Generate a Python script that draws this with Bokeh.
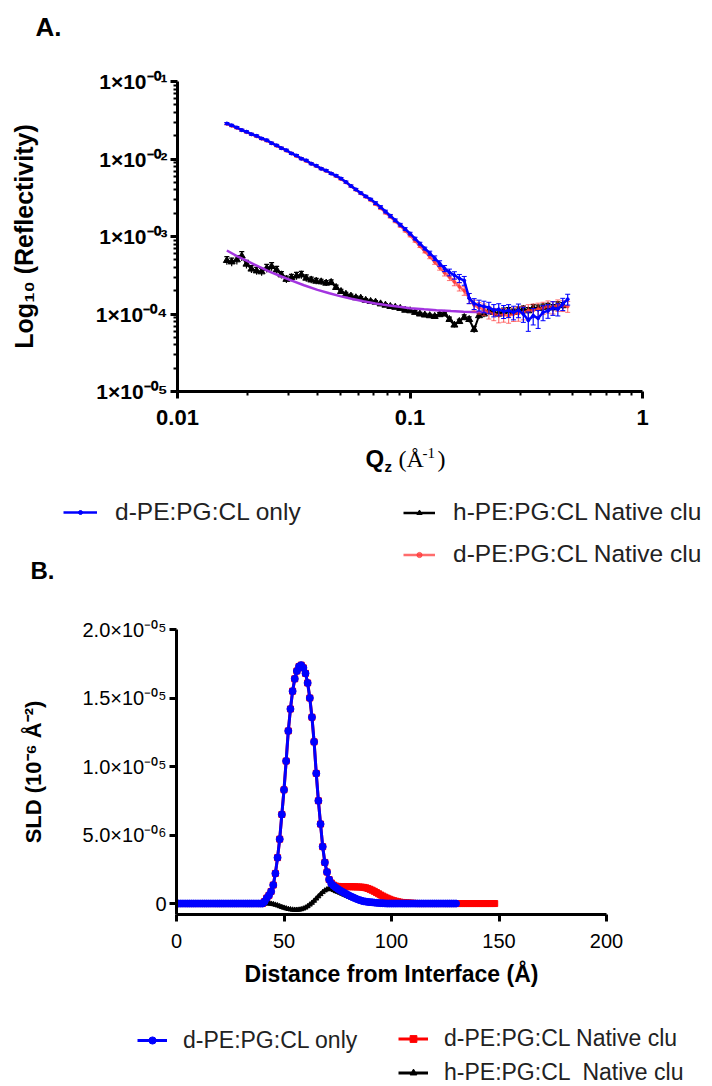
from bokeh.plotting import figure
from bokeh.models import (FixedTicker, CustomJSTickFormatter, Label, Legend,
                          LegendItem, Range1d, ColumnDataSource)
from bokeh.layouts import column
from bokeh.embed import file_html
from bokeh.resources import INLINE

FONT = "Liberation Sans"
SERIF = "Liberation Serif"

# ---------------- Panel A data (reflectivity) ----------------
q = [0.0163, 0.0171, 0.0180, 0.0189, 0.0198, 0.0208, 0.0219, 0.0230, 0.0242, 0.0254,
     0.0267, 0.0280, 0.0294, 0.0309, 0.0325, 0.0341, 0.0358, 0.0376, 0.0395, 0.0415,
     0.0436, 0.0458, 0.0481, 0.0505, 0.0530, 0.0557, 0.0585, 0.0614, 0.0645, 0.0677,
     0.0711, 0.0747, 0.0784, 0.0823, 0.0864, 0.0908, 0.0953, 0.1001, 0.1051, 0.1103,
     0.1158, 0.1216, 0.1277, 0.1341, 0.1408, 0.1478, 0.1552, 0.1630, 0.1711, 0.1797,
     0.1887, 0.1981, 0.2080, 0.2184, 0.2293, 0.2408, 0.2528, 0.2655, 0.2787, 0.2927,
     0.3073, 0.3227, 0.3388, 0.3557, 0.3735, 0.3922, 0.4118, 0.4324, 0.4540, 0.4767]

r_only = [2.87e-2, 2.72e-2, 2.55e-2, 2.36e-2, 2.25e-2, 2.09e-2, 1.99e-2, 1.84e-2, 1.75e-2, 1.60e-2,
          1.50e-2, 1.38e-2, 1.30e-2, 1.18e-2, 1.11e-2, 1.01e-2, 9.6e-3, 8.7e-3, 8.2e-3, 7.5e-3,
          7.1e-3, 6.5e-3, 6.1e-3, 5.6e-3, 5.05e-3, 4.5e-3, 4.05e-3, 3.65e-3, 3.3e-3, 3.02e-3,
          2.7e-3, 2.4e-3, 2.1e-3, 1.85e-3, 1.62e-3, 1.42e-3, 1.25e-3, 1.09e-3, 9.4e-4, 8.1e-4,
          7.0e-4, 6.1e-4, 5.25e-4, 4.5e-4, 3.87e-4, 3.45e-4, 3.16e-4, 2.89e-4, 2.7e-4, 1.6e-4,
          1.36e-4, 1.3e-4, 1.25e-4, 1.21e-4, 1.12e-4, 1.15e-4, 1.08e-4, 1.11e-4, 1.05e-4, 1.12e-4,
          1.0e-4, 8.3e-5, 9.5e-5, 8.8e-5, 1.05e-4, 1.1e-4, 1.2e-4, 1.15e-4, 1.35e-4, 1.55e-4]
err_only = ([0.03] * 30 + [0.04] * 11 + [0.06, 0.07, 0.08, 0.09, 0.10, 0.11, 0.12, 0.13] +
            [0.15, 0.16, 0.16, 0.17, 0.17, 0.18, 0.18, 0.19, 0.19, 0.20, 0.20, 0.22, 0.28,
             0.24, 0.26, 0.22, 0.20, 0.20, 0.18, 0.18, 0.16])

r_dnat = [2.84e-2, 2.68e-2, 2.52e-2, 2.35e-2, 2.22e-2, 2.08e-2, 1.96e-2, 1.83e-2, 1.72e-2, 1.60e-2,
          1.48e-2, 1.38e-2, 1.28e-2, 1.18e-2, 1.09e-2, 1.01e-2, 9.4e-3, 8.7e-3, 8.1e-3, 7.5e-3,
          7.0e-3, 6.5e-3, 6.0e-3, 5.5e-3, 5.0e-3, 4.45e-3, 4.0e-3, 3.6e-3, 3.25e-3, 2.95e-3,
          2.62e-3, 2.32e-3, 2.03e-3, 1.80e-3, 1.57e-3, 1.37e-3, 1.19e-3, 1.03e-3, 8.8e-4, 7.5e-4,
          6.4e-4, 5.5e-4, 4.7e-4, 4.0e-4, 3.4e-4, 3.0e-4, 2.6e-4, 2.25e-4, 2.0e-4, 1.6e-4,
          1.3e-4, 1.2e-4, 1.15e-4, 1.05e-4, 1.0e-4, 9.6e-5, 9.8e-5, 9.5e-5, 1.0e-4, 1.02e-4,
          1.05e-4, 1.1e-4, 1.12e-4, 1.15e-4, 1.2e-4, 1.25e-4, 1.22e-4, 1.3e-4, 1.28e-4, 1.25e-4]
err_dnat = ([0.03] * 30 + [0.04] * 11 + [0.06, 0.07, 0.08, 0.09, 0.10, 0.11, 0.12, 0.13] +
            [0.15, 0.16, 0.17, 0.17, 0.18, 0.18, 0.20, 0.20, 0.20, 0.20, 0.21, 0.20, 0.20,
             0.20, 0.20, 0.18, 0.18, 0.18, 0.17, 0.16, 0.16])

q_hnat = q[:69]
r_hnat = [4.9e-4, 4.7e-4, 5.0e-4, 5.6e-4, 4.4e-4, 3.8e-4, 3.6e-4, 3.5e-4, 3.9e-4, 4.1e-4,
          3.7e-4, 3.2e-4, 2.8e-4, 2.95e-4, 3.1e-4, 3.2e-4, 2.9e-4, 2.75e-4, 2.65e-4, 2.6e-4,
          2.5e-4, 2.55e-4, 2.2e-4, 1.95e-4, 1.8e-4, 1.7e-4, 1.62e-4, 1.6e-4, 1.5e-4, 1.45e-4,
          1.42e-4, 1.35e-4, 1.3e-4, 1.25e-4, 1.22e-4, 1.18e-4, 1.12e-4, 1.1e-4, 1.05e-4, 1.0e-4,
          9.7e-5, 9.5e-5, 9.3e-5, 9.8e-5, 1.0e-4, 8.5e-5, 7.2e-5, 8.0e-5, 9.0e-5, 8.5e-5,
          6.3e-5, 9.5e-5, 1.0e-4, 1.1e-4, 1.05e-4, 1.0e-4, 1.08e-4, 1.1e-4, 1.05e-4, 1.12e-4,
          1.15e-4, 1.1e-4, 1.2e-4, 1.18e-4, 1.22e-4, 1.25e-4, 1.2e-4, 1.3e-4, 1.28e-4]
err_hnat = ([0.12, 0.12, 0.13, 0.14, 0.12, 0.11, 0.11, 0.11, 0.12, 0.12,
             0.11, 0.10, 0.10, 0.10, 0.11, 0.11, 0.10, 0.09, 0.09, 0.08, 0.08, 0.08] +
            [0.07, 0.07, 0.06, 0.06, 0.06] + [0.05] * 15 +
            [0.06, 0.06, 0.06, 0.07, 0.07, 0.07, 0.08, 0.08, 0.09, 0.09, 0.09] + [0.10] * 16)

fit_q = [0.0163, 0.018, 0.020, 0.0225, 0.025, 0.028, 0.031, 0.035, 0.04, 0.045, 0.05, 0.056,
         0.063, 0.071, 0.08, 0.09, 0.10, 0.115, 0.13, 0.15, 0.17, 0.19, 0.215]
fit_r = [6.6e-4, 5.6e-4, 4.8e-4, 4.05e-4, 3.5e-4, 3.05e-4, 2.7e-4, 2.35e-4, 2.05e-4, 1.85e-4,
         1.7e-4, 1.57e-4, 1.46e-4, 1.37e-4, 1.3e-4, 1.24e-4, 1.19e-4, 1.15e-4, 1.12e-4, 1.09e-4,
         1.07e-4, 1.06e-4, 1.06e-4]

xA_ticks = [0.01, 0.1, 1.0]
xA_labels = ["0.01", "0.1", "1"]
xA_minor = [0.02, 0.03, 0.04, 0.05, 0.06, 0.07, 0.08, 0.09, 0.2, 0.3, 0.4, 0.5, 0.6, 0.7, 0.8, 0.9]
yA_ticks = [1e-5, 1e-4, 1e-3, 1e-2, 1e-1]
yA_labels = ["1×10⁻⁰⁵", "1×10⁻⁰⁴", "1×10⁻⁰³", "1×10⁻⁰²", "1×10⁻⁰¹"]
yA_minor = [m * d for d in [1e-5, 1e-4, 1e-3, 1e-2] for m in [2, 3, 4, 5, 6, 7, 8, 9]]

# ---------------- Panel B data (SLD profiles, units of 1e-6 A^-2) ----------------
z_only = list(range(131))
sld_only = ([0.0] * 41 +
            [0.15, 0.4, 0.6, 0.88, 1.35, 2.2, 3.35, 4.7, 6.5, 8.3, 10.4, 12.6, 14.2, 15.5, 16.4,
             16.97, 17.3, 17.4, 17.2, 16.8, 16.1, 15.0, 13.6, 11.8, 9.5, 7.5, 5.8, 4.15, 3.0, 2.3,
             1.75, 1.45, 1.3, 1.18, 1.07, 0.97, 0.87, 0.78, 0.70, 0.61, 0.53, 0.46, 0.39, 0.32,
             0.26, 0.21, 0.17, 0.14, 0.12, 0.10, 0.09, 0.07, 0.05, 0.04, 0.03, 0.02, 0.01] +
            [0.0] * 33)
z_dnat = list(range(149))
sld_dnat = ([0.0] * 41 +
            [0.15, 0.4, 0.6, 0.88, 1.35, 2.2, 3.35, 4.7, 6.5, 8.3, 10.4, 12.6, 14.2, 15.5, 16.4,
             16.97, 17.3, 17.4, 17.2, 16.8, 16.1, 15.0, 13.6, 11.8, 9.5, 7.5, 5.8, 4.15, 3.0, 2.3,
             1.75] +
            [1.5, 1.35, 1.28, 1.25, 1.24, 1.24, 1.24, 1.24, 1.23, 1.23, 1.22, 1.22, 1.21, 1.21] +
            [1.2, 1.18, 1.15, 1.1, 1.04, 0.97, 0.89, 0.8, 0.71, 0.62, 0.54, 0.46, 0.39, 0.32,
             0.26, 0.21, 0.17, 0.13, 0.1, 0.08, 0.06, 0.05, 0.04, 0.03, 0.02, 0.01] +
            [0.0] * 37)
z_hnat = list(range(131))
sld_hnat = ([0.0] * 44 +
            [-0.02, -0.05, -0.09, -0.14, -0.2, -0.26, -0.31, -0.36, -0.4, -0.43, -0.45, -0.46,
             -0.46, -0.45, -0.42, -0.37, -0.3, -0.2, -0.08, 0.05, 0.2, 0.36, 0.52, 0.68, 0.83,
             0.95, 1.03, 1.07, 1.05, 0.98, 0.9, 0.85, 0.78, 0.71, 0.64, 0.57, 0.5, 0.44, 0.38,
             0.32, 0.27, 0.22, 0.18, 0.14, 0.11, 0.09, 0.07, 0.05, 0.04, 0.03, 0.02, 0.01] +
            [0.0] * 35)
SLD_UNIT = 1e-6

xB_ticks = [0, 50, 100, 150, 200]
yB_ticks = [0, 5e-6, 1e-5, 1.5e-5, 2e-5]
yB_labels = ["0", "5.0×10⁻⁰⁶", "1.0×10⁻⁰⁵", "1.5×10⁻⁰⁵", "2.0×10⁻⁰⁵"]

assert len(r_only) == len(q) == len(err_only) == len(r_dnat) == len(err_dnat)
assert len(r_hnat) == len(q_hnat) == len(err_hnat)
assert len(sld_only) == len(z_only) and len(sld_dnat) == len(z_dnat) and len(sld_hnat) == len(z_hnat)

LOG_CODE = """
let best = 0, bd = Infinity;
for (let i = 0; i < tvals.length; i++) {
  const d = Math.abs(Math.log10(tick) - Math.log10(tvals[i]));
  if (d < bd) { bd = d; best = i; }
}
return tlabels[best];
"""
LIN_CODE = """
let best = 0, bd = Infinity;
for (let i = 0; i < tvals.length; i++) {
  const d = Math.abs(tick - tvals[i]);
  if (d < bd) { bd = d; best = i; }
}
return tlabels[best];
"""

BLUE = "#0000ff"
REDA = "#ff3b3b"
PURPLE = "#a334e0"
REDB = "#ff0000"


def style_axis(ax, size, bold):
    ax.axis_line_width = 3
    ax.axis_line_color = "black"
    ax.major_tick_line_width = 3
    ax.major_tick_line_color = "black"
    ax.major_tick_in = 0
    ax.major_tick_out = 7
    ax.minor_tick_line_width = 2
    ax.minor_tick_line_color = "black"
    ax.minor_tick_in = 0
    ax.minor_tick_out = 4
    ax.major_label_text_font = FONT
    ax.major_label_text_font_size = size
    ax.major_label_text_font_style = "bold" if bold else "normal"
    ax.major_label_text_color = "black"
    ax.axis_label_text_font = FONT
    ax.axis_label_text_font_style = "bold"
    ax.axis_label_text_color = "black"


def err_source(xs, ys, fr):
    return ColumnDataSource(dict(x=xs, y=ys,
                                 lo=[y * (1 - f) for y, f in zip(ys, fr)],
                                 hi=[y * (1 + f) for y, f in zip(ys, fr)]))


def strip(h):
    """A frame-only figure (no axes) used to hold panel letters, text and legends."""
    s = figure(width=712, height=h, x_range=Range1d(0, 712), y_range=Range1d(0, h),
               x_axis_location=None, y_axis_location=None, min_border=0,
               output_backend="svg", toolbar_location=None, frame_align=False)
    s.grid.visible = False
    s.outline_line_color = None
    s.background_fill_color = "white"
    s.border_fill_color = "white"
    return s


def lab(p, x, y, text, size, font=FONT, style="bold"):
    p.add_layout(Label(x=x, y=y, text=text, text_font=font, text_font_size=size,
                       text_font_style=style, text_baseline="middle", text_align="left",
                       text_color="black"))


def make_legend(items, loc, size, lh, gh, spacing, gw, standoff):
    return Legend(items=items, location=loc, orientation="vertical", padding=0, margin=0,
                  spacing=spacing, label_standoff=standoff, glyph_width=gw, glyph_height=gh,
                  label_height=lh, border_line_alpha=0, background_fill_alpha=0,
                  label_text_font=FONT, label_text_font_size=size, label_text_color="#222222")


def swatch(p, sx, sy, color, marker, size, width, alpha=1.0):
    """Hidden copy of a series' style, only used to draw its legend key."""
    ln = p.line(x=sx, y=sy, line_color=color, line_width=width, line_alpha=alpha, visible=False)
    pt = p.scatter(x=sx, y=sy, marker=marker, size=size, fill_color=color, line_color=color,
                   alpha=alpha, visible=False)
    return [ln, pt]


# ================= top strip with "A." (canvas y 0..60) =================
H0 = 60
top = strip(H0)
lab(top, 35, H0 - 26, "A.", "26px")

# ================= Panel A plot (canvas y 60..435) =================
pA = figure(width=712, height=375, x_axis_type="log", y_axis_type="log",
            x_range=Range1d(0.01, 1), y_range=Range1d(1e-5, 1e-1),
            output_backend="svg", toolbar_location=None, frame_align=False,
            min_border_left=177, min_border_right=70, min_border_top=21, min_border_bottom=44)
pA.xgrid.visible = False
pA.ygrid.visible = False
pA.outline_line_color = None
pA.background_fill_color = "white"
pA.border_fill_color = "white"

style_axis(pA.xaxis[0], "22px", True)
pA.xaxis.ticker = FixedTicker(ticks=xA_ticks, minor_ticks=xA_minor)
pA.xaxis.formatter = CustomJSTickFormatter(args=dict(tvals=xA_ticks, tlabels=xA_labels), code=LOG_CODE)
pA.xaxis.major_label_standoff = 11

style_axis(pA.yaxis[0], "21px", True)
pA.yaxis.ticker = FixedTicker(ticks=yA_ticks, minor_ticks=yA_minor)
pA.yaxis.formatter = CustomJSTickFormatter(args=dict(tvals=yA_ticks, tlabels=yA_labels), code=LOG_CODE)
pA.yaxis.major_label_standoff = 3
pA.yaxis.axis_label = "Log₁₀ (Reflectivity)"
pA.yaxis.axis_label_text_font_size = "25px"
pA.yaxis.axis_label_standoff = 55

sK = err_source(q_hnat, r_hnat, err_hnat)
pA.segment(x0="x", y0="lo", x1="x", y1="hi", source=sK, line_color="black", line_width=1.2)
pA.scatter(x="x", y="hi", source=sK, marker="dash", size=5, line_color="black", line_width=1.2)
pA.line(x="x", y="y", source=sK, line_color="black", line_width=2)
pA.scatter(x="x", y="y", source=sK, marker="triangle", size=7, fill_color="black", line_color="black")

pA.line(x=fit_q, y=fit_r, line_color=PURPLE, line_width=2.5)

sR = err_source(q, r_dnat, err_dnat)
pA.segment(x0="x", y0="lo", x1="x", y1="hi", source=sR, line_color=REDA, line_alpha=0.7, line_width=1.2)
pA.scatter(x="x", y="hi", source=sR, marker="dash", size=5, line_color=REDA, line_alpha=0.7)
pA.scatter(x="x", y="lo", source=sR, marker="dash", size=5, line_color=REDA, line_alpha=0.7)
pA.line(x="x", y="y", source=sR, line_color=REDA, line_alpha=0.75, line_width=2.5)
pA.scatter(x="x", y="y", source=sR, marker="circle", size=3, fill_color=REDA, line_color=REDA, alpha=0.75)

sB = err_source(q, r_only, err_only)
pA.segment(x0="x", y0="lo", x1="x", y1="hi", source=sB, line_color=BLUE, line_width=1.2)
pA.scatter(x="x", y="hi", source=sB, marker="dash", size=5, line_color=BLUE)
pA.scatter(x="x", y="lo", source=sB, marker="dash", size=5, line_color=BLUE)
pA.line(x="x", y="y", source=sB, line_color=BLUE, line_width=2.5)
pA.scatter(x="x", y="y", source=sB, marker="circle", size=3, fill_color=BLUE, line_color=BLUE)

# ================= strip below A: x-axis title, legend A, "B." (canvas y 435..600) =================
H1 = 165
Y1 = 435
mid = strip(H1)
lab(mid, 365, H1 - (458 - Y1), "Q", "24px")
lab(mid, 384, H1 - (466 - Y1), "z", "15px")
lab(mid, 398, H1 - (458 - Y1), "(Å", "24px", SERIF, "normal")
lab(mid, 422, H1 - (452 - Y1), "-1", "15px", SERIF, "normal")
lab(mid, 437, H1 - (458 - Y1), ")", "24px", SERIF, "normal")
lab(mid, 30, H1 - (570 - Y1), "B.", "24px")

sw_x, sw_y = [q[0]], [r_only[0]]
mid.add_layout(make_legend([LegendItem(label="d-PE:PG:CL only",
                                       renderers=swatch(mid, sw_x, sw_y, BLUE, "circle", 3, 2.5))],
                           (63, H1 - (527 - Y1)), "24.5px", 30, 10, 12, 34, 18))
mid.add_layout(make_legend([LegendItem(label="h-PE:PG:CL Native clu",
                                       renderers=swatch(mid, sw_x, sw_y, "black", "triangle", 6, 2.5)),
                            LegendItem(label="d-PE:PG:CL Native clu",
                                       renderers=swatch(mid, sw_x, sw_y, REDA, "circle", 3, 2.5, 0.75))],
                           (403, H1 - (569 - Y1)), "24.5px", 30, 13, 12, 32, 18))

# ================= Panel B plot (canvas y 600..1000) =================
pB = figure(width=712, height=400, x_range=Range1d(0, 200), y_range=Range1d(-8e-7, 2e-5),
            output_backend="svg", toolbar_location=None, frame_align=False,
            min_border_left=176, min_border_right=106, min_border_top=29, min_border_bottom=86)
pB.xgrid.visible = False
pB.ygrid.visible = False
pB.outline_line_color = None
pB.background_fill_color = "white"
pB.border_fill_color = "white"

style_axis(pB.xaxis[0], "20px", False)
pB.xaxis.ticker = FixedTicker(ticks=xB_ticks, minor_ticks=[])
pB.xaxis.major_label_standoff = 12
pB.xaxis.axis_label = "Distance from Interface (Å)"
pB.xaxis.axis_label_text_font_size = "23px"
pB.xaxis.axis_label_standoff = 10

style_axis(pB.yaxis[0], "20px", False)
pB.yaxis.ticker = FixedTicker(ticks=yB_ticks, minor_ticks=[])
pB.yaxis.formatter = CustomJSTickFormatter(args=dict(tvals=yB_ticks, tlabels=yB_labels), code=LIN_CODE)
pB.yaxis.major_label_standoff = 3
pB.yaxis.axis_label = "SLD (10⁻⁶ Å⁻²)"
pB.yaxis.axis_label_text_font_size = "22px"
pB.yaxis.axis_label_standoff = 33

srcR = ColumnDataSource(dict(x=z_dnat, y=[v * SLD_UNIT for v in sld_dnat]))
srcK = ColumnDataSource(dict(x=z_hnat, y=[v * SLD_UNIT for v in sld_hnat]))
srcB = ColumnDataSource(dict(x=z_only, y=[v * SLD_UNIT for v in sld_only]))

pB.line(x="x", y="y", source=srcR, line_color=REDB, line_width=3)
pB.scatter(x="x", y="y", source=srcR, marker="square", size=6, fill_color=REDB, line_color=REDB)
pB.line(x="x", y="y", source=srcK, line_color="black", line_width=3)
pB.scatter(x="x", y="y", source=srcK, marker="triangle", size=5, fill_color="black", line_color="black")
pB.line(x="x", y="y", source=srcB, line_color=BLUE, line_width=3)
pB.scatter(x="x", y="y", source=srcB, marker="circle", size=7, fill_color=BLUE, line_color=BLUE)

# ================= strip with legend B (canvas y 1000..1086) =================
H2 = 86
Y2 = 1000
bot = strip(H2)
sw2_x, sw2_y = [z_only[0]], [sld_only[0]]
bot.add_layout(make_legend([LegendItem(label="d-PE:PG:CL only",
                                       renderers=swatch(bot, sw2_x, sw2_y, BLUE, "circle", 7, 3))],
                           (137, H2 - (1054 - Y2)), "23px", 28, 18, 6, 30, 16))
bot.add_layout(make_legend([LegendItem(label="d-PE:PG:CL Native clu",
                                       renderers=swatch(bot, sw2_x, sw2_y, REDB, "square", 6, 3)),
                            LegendItem(label="h-PE:PG:CL  Native clu",
                                       renderers=swatch(bot, sw2_x, sw2_y, "black", "triangle", 6, 3))],
                           (398, H2 - (1086 - Y2)), "23px", 28, 17, 6, 30, 16))

layout = column(top, pA, mid, pB, bot, spacing=0)
open("out.html", "w").write(file_html(layout, INLINE))
